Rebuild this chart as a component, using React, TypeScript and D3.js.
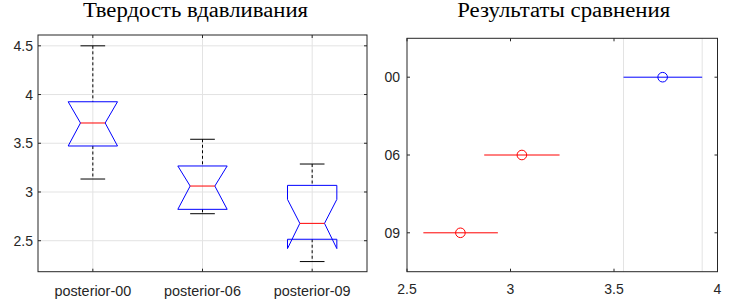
import React from "react";
import * as d3 from "d3";

// ---------- data ----------
const groups = ["posterior-00", "posterior-06", "posterior-09"];
const capHigh = [4.5, 3.541, 3.287];
const q3 = [3.926, 3.267, 3.068];
const notchHigh = [3.926, 3.267, 2.924];
const medians = [3.708, 3.061, 2.678];
const notchLow = [3.472, 2.822, 2.419];
const q1 = [3.472, 2.822, 2.515];
const capLow = [3.133, 2.777, 2.286];
const leftYTicks = [2.5, 3, 3.5, 4, 4.5];

const cmpLabels = ["00", "06", "09"];
const cmpMeans = [3.735, 3.055, 2.758];
const cmpLow = [3.546, 2.873, 2.579];
const cmpHigh = [3.926, 3.237, 2.939];
const cmpColors = ["#0000ff", "#ff0000", "#ff0000"];
const rightXTicks = [2.5, 3, 3.5, 4];

const leftTitle = "Твердость вдавливания";
const rightTitle = "Результаты сравнения";

const AX = "#262626";
const GRID = "#e3e3e3";
const SANS = "'Liberation Sans', Arial, Helvetica, sans-serif";
const SERIF = "'Liberation Serif', 'Times New Roman', serif";
const TICK = 3;

function LeftPlot() {
  const x0 = 38, x1 = 367, y0 = 35, y1 = 271.7;
  const x = d3.scaleLinear().domain([0.5, 3.5]).range([x0, x1]);
  const y = d3.scaleLinear().domain([2.182, 4.611]).range([y1, y0]);
  const boxW = 0.45;
  const half = boxW / 2;
  const nHalf = boxW / 4;
  const capHalf = boxW / 4;
  const line = d3.line<[number, number]>().x((d) => x(d[0])).y((d) => y(d[1]));
  return (
    <g>
      <rect x={x0} y={y0} width={x1 - x0} height={y1 - y0} fill="#fff" />
      {leftYTicks.map((t) => (
        <line key={"gy" + t} x1={x0} x2={x1} y1={y(t)} y2={y(t)} stroke={GRID} strokeWidth={1} />
      ))}
      {groups.map((g, i) => (
        <line key={"gx" + g} x1={x(i + 1)} x2={x(i + 1)} y1={y0} y2={y1} stroke={GRID} strokeWidth={1} />
      ))}
      {groups.map((g, i) => {
        const c = i + 1;
        const poly: [number, number][] = [
          [c - half, q1[i]],
          [c - half, notchLow[i]],
          [c - nHalf, medians[i]],
          [c - half, notchHigh[i]],
          [c - half, q3[i]],
          [c + half, q3[i]],
          [c + half, notchHigh[i]],
          [c + nHalf, medians[i]],
          [c + half, notchLow[i]],
          [c + half, q1[i]],
          [c - half, q1[i]],
        ];
        return (
          <g key={g}>
            <line x1={x(c)} x2={x(c)} y1={y(capHigh[i])} y2={y(q3[i])} stroke="#000" strokeWidth={1} strokeDasharray="3,2.5" />
            <line x1={x(c)} x2={x(c)} y1={y(q1[i])} y2={y(capLow[i])} stroke="#000" strokeWidth={1} strokeDasharray="3,2.5" />
            <line x1={x(c - capHalf)} x2={x(c + capHalf)} y1={y(capHigh[i])} y2={y(capHigh[i])} stroke="#000" strokeWidth={1} />
            <line x1={x(c - capHalf)} x2={x(c + capHalf)} y1={y(capLow[i])} y2={y(capLow[i])} stroke="#000" strokeWidth={1} />
            <path d={line(poly) || ""} fill="none" stroke="#0000ff" strokeWidth={1} />
            <line x1={x(c - nHalf)} x2={x(c + nHalf)} y1={y(medians[i])} y2={y(medians[i])} stroke="#ff0000" strokeWidth={1} />
          </g>
        );
      })}
      <rect x={x0} y={y0} width={x1 - x0} height={y1 - y0} fill="none" stroke={AX} strokeWidth={1} />
      {leftYTicks.map((t) => (
        <g key={"ty" + t}>
          <line x1={x0} x2={x0 + TICK} y1={y(t)} y2={y(t)} stroke={AX} />
          <line x1={x1} x2={x1 - TICK} y1={y(t)} y2={y(t)} stroke={AX} />
          <text x={x0 - 5} y={y(t)} dy="0.36em" textAnchor="end" fontFamily={SANS} fontSize={14} fill={AX}>
            {String(t)}
          </text>
        </g>
      ))}
      {groups.map((g, i) => (
        <g key={"tx" + g}>
          <line x1={x(i + 1)} x2={x(i + 1)} y1={y1} y2={y1 - TICK} stroke={AX} />
          <line x1={x(i + 1)} x2={x(i + 1)} y1={y0} y2={y0 + TICK} stroke={AX} />
          <text x={x(i + 1)} y={296} textAnchor="middle" fontFamily={SANS} fontSize={14.4} fill={AX}>
            {g}
          </text>
        </g>
      ))}
      <text
        x={195.5}
        y={17}
        textAnchor="middle"
        fontFamily={SERIF}
        fontSize={20.5}
        fill="#000"
        textLength={225}
        lengthAdjust="spacingAndGlyphs"
      >
        {leftTitle}
      </text>
    </g>
  );
}

function RightPlot() {
  const x0 = 407, x1 = 717.5, y0 = 38.3, y1 = 271.7;
  const x = d3.scaleLinear().domain([2.5, 4]).range([x0, x1]);
  const y = d3.scaleLinear().domain([0.5, 3.5]).range([y0, y1]);
  return (
    <g>
      <rect x={x0} y={y0} width={x1 - x0} height={y1 - y0} fill="#fff" />
      <line x1={x(cmpLow[0])} x2={x(cmpLow[0])} y1={y0} y2={y1} stroke={GRID} strokeWidth={1} />
      <line x1={x(cmpHigh[0])} x2={x(cmpHigh[0])} y1={y0} y2={y1} stroke={GRID} strokeWidth={1} />
      {cmpLabels.map((l, i) => (
        <g key={"c" + l}>
          <line x1={x(cmpLow[i])} x2={x(cmpHigh[i])} y1={y(i + 1)} y2={y(i + 1)} stroke={cmpColors[i]} strokeWidth={1} />
          <circle cx={x(cmpMeans[i])} cy={y(i + 1)} r={4.8} fill="none" stroke={cmpColors[i]} strokeWidth={1} />
        </g>
      ))}
      <rect x={x0} y={y0} width={x1 - x0} height={y1 - y0} fill="none" stroke={AX} strokeWidth={1} />
      {cmpLabels.map((l, i) => (
        <g key={"ty" + l}>
          <line x1={x0} x2={x0 + TICK} y1={y(i + 1)} y2={y(i + 1)} stroke={AX} />
          <line x1={x1} x2={x1 - TICK} y1={y(i + 1)} y2={y(i + 1)} stroke={AX} />
          <text x={x0 - 7} y={y(i + 1)} dy="0.36em" textAnchor="end" fontFamily={SANS} fontSize={14} fill={AX}>
            {l}
          </text>
        </g>
      ))}
      {rightXTicks.map((t) => (
        <g key={"tx" + t}>
          <line x1={x(t)} x2={x(t)} y1={y1} y2={y1 - TICK} stroke={AX} />
          <line x1={x(t)} x2={x(t)} y1={y0} y2={y0 + TICK} stroke={AX} />
          <text x={x(t)} y={294} textAnchor="middle" fontFamily={SANS} fontSize={14} fill={AX}>
            {String(t)}
          </text>
        </g>
      ))}
      <text
        x={563.7}
        y={17}
        textAnchor="middle"
        fontFamily={SERIF}
        fontSize={20.5}
        fill="#000"
        textLength={213}
        lengthAdjust="spacingAndGlyphs"
      >
        {rightTitle}
      </text>
    </g>
  );
}

export default function App() {
  return (
    <svg
      width={738}
      height={304}
      viewBox="0 0 738 304"
      style={{ position: "absolute", left: 0, top: 0, background: "#fff" }}
    >
      <rect x={0} y={0} width={738} height={304} fill="#fff" />
      <LeftPlot />
      <RightPlot />
    </svg>
  );
}
